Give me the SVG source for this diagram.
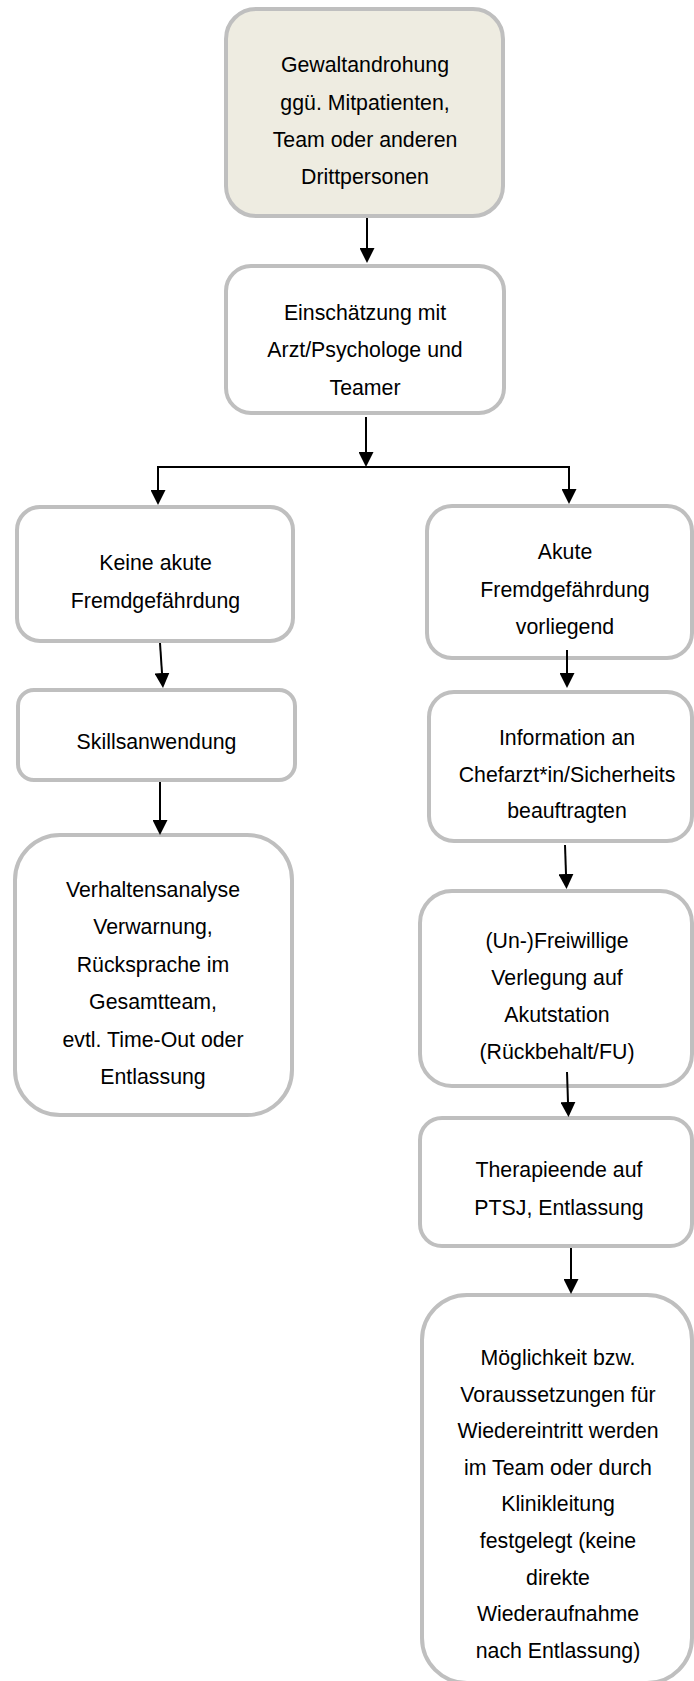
<svg xmlns="http://www.w3.org/2000/svg" width="694" height="1681" viewBox="0 0 694 1681">
<style>
.box{fill:#ffffff;stroke:#bfbfbf;stroke-width:4}
.start{fill:#eeece1}
.t{font-family:"Liberation Sans",Arial,sans-serif;font-size:21.3px;fill:#000;text-anchor:middle}
.c{stroke:#000;stroke-width:2;fill:none}
.a{stroke:#000;stroke-width:2;fill:none;marker-end:url(#ah)}
</style>
<defs>
<marker id="ah" markerUnits="userSpaceOnUse" markerWidth="15" markerHeight="15" refX="0" refY="7.5" orient="auto">
<path d="M0,0 L15,7.5 L0,15 z" fill="#000"/>
</marker>
</defs>
<rect width="694" height="1681" fill="#ffffff"/>

<g id="n1">
<rect class="box start" x="226" y="9" width="277" height="207" rx="30" ry="30"/>
<text class="t" x="365" y="72">Gewaltandrohung</text>
<text class="t" x="365" y="109.5">ggü. Mitpatienten,</text>
<text class="t" x="365" y="147">Team oder anderen</text>
<text class="t" x="365" y="184">Drittpersonen</text>
</g>

<g id="n2">
<rect class="box" x="226" y="266" width="278" height="147" rx="25" ry="25"/>
<text class="t" x="365" y="319.5">Einschätzung mit</text>
<text class="t" x="365" y="357">Arzt/Psychologe und</text>
<text class="t" x="365" y="394.5">Teamer</text>
</g>

<g id="n3">
<rect class="box" x="17" y="507" width="276" height="134" rx="23" ry="23"/>
<text class="t" x="155.5" y="570">Keine akute</text>
<text class="t" x="155.5" y="607.5">Fremdgefährdung</text>
</g>

<g id="n4">
<rect class="box" x="18" y="690" width="277" height="90" rx="16" ry="16"/>
<text class="t" x="156.5" y="748.5">Skillsanwendung</text>
</g>

<g id="n5">
<rect class="box" x="15" y="835" width="277" height="280" rx="45" ry="45"/>
<text class="t" x="153" y="896.5">Verhaltensanalyse</text>
<text class="t" x="153" y="934">Verwarnung,</text>
<text class="t" x="153" y="971.5">Rücksprache im</text>
<text class="t" x="153" y="1009">Gesamtteam,</text>
<text class="t" x="153" y="1046.5">evtl. Time-Out oder</text>
<text class="t" x="153" y="1084">Entlassung</text>
</g>

<g id="n6">
<rect class="box" x="427" y="506" width="265" height="152" rx="25" ry="25"/>
<text class="t" x="565" y="559">Akute</text>
<text class="t" x="565" y="596.5">Fremdgefährdung</text>
<text class="t" x="565" y="634">vorliegend</text>
</g>

<g id="n7">
<rect class="box" x="429" y="692" width="263" height="149" rx="25" ry="25"/>
<text class="t" x="567" y="745">Information an</text>
<text class="t" x="567" y="782">Chefarzt*in/Sicherheits</text>
<text class="t" x="567" y="818">beauftragten</text>
</g>

<g id="n8">
<rect class="box" x="420" y="891" width="272" height="195" rx="32" ry="32"/>
<text class="t" x="557" y="947.5">(Un-)Freiwillige</text>
<text class="t" x="557" y="984.5">Verlegung auf</text>
<text class="t" x="557" y="1021.5">Akutstation</text>
<text class="t" x="557" y="1058.5">(Rückbehalt/FU)</text>
</g>

<g id="n9">
<rect class="box" x="420" y="1118" width="272" height="128" rx="22" ry="22"/>
<text class="t" x="559" y="1176.5">Therapieende auf</text>
<text class="t" x="559" y="1214.5">PTSJ, Entlassung</text>
</g>

<g id="n10">
<rect class="box" x="422" y="1295" width="270" height="388" rx="45" ry="45"/>
<text class="t" x="558" y="1365">Möglichkeit bzw.</text>
<text class="t" x="558" y="1401.6">Voraussetzungen für</text>
<text class="t" x="558" y="1438.2">Wiedereintritt werden</text>
<text class="t" x="558" y="1474.8">im Team oder durch</text>
<text class="t" x="558" y="1511.4">Klinikleitung</text>
<text class="t" x="558" y="1548">festgelegt (keine</text>
<text class="t" x="558" y="1584.6">direkte</text>
<text class="t" x="558" y="1621.2">Wiederaufnahme</text>
<text class="t" x="558" y="1657.8">nach Entlassung)</text>
</g>

<g id="connectors">
<line class="a" x1="367" y1="218" x2="367" y2="248"/>
<line class="a" x1="366" y1="417" x2="366" y2="452"/>
<line class="c" x1="157" y1="467" x2="570" y2="467"/>
<line class="a" x1="158" y1="467" x2="158" y2="490"/>
<line class="a" x1="569" y1="467" x2="569" y2="489"/>
<line class="a" x1="160" y1="643" x2="162" y2="673"/>
<line class="a" x1="160" y1="782" x2="160" y2="820"/>
<line class="a" x1="567" y1="650" x2="567" y2="673"/>
<line class="a" x1="565" y1="845" x2="566" y2="874"/>
<line class="a" x1="567" y1="1072" x2="568" y2="1102"/>
<line class="a" x1="571" y1="1248" x2="571" y2="1279"/>
</g>
</svg>
